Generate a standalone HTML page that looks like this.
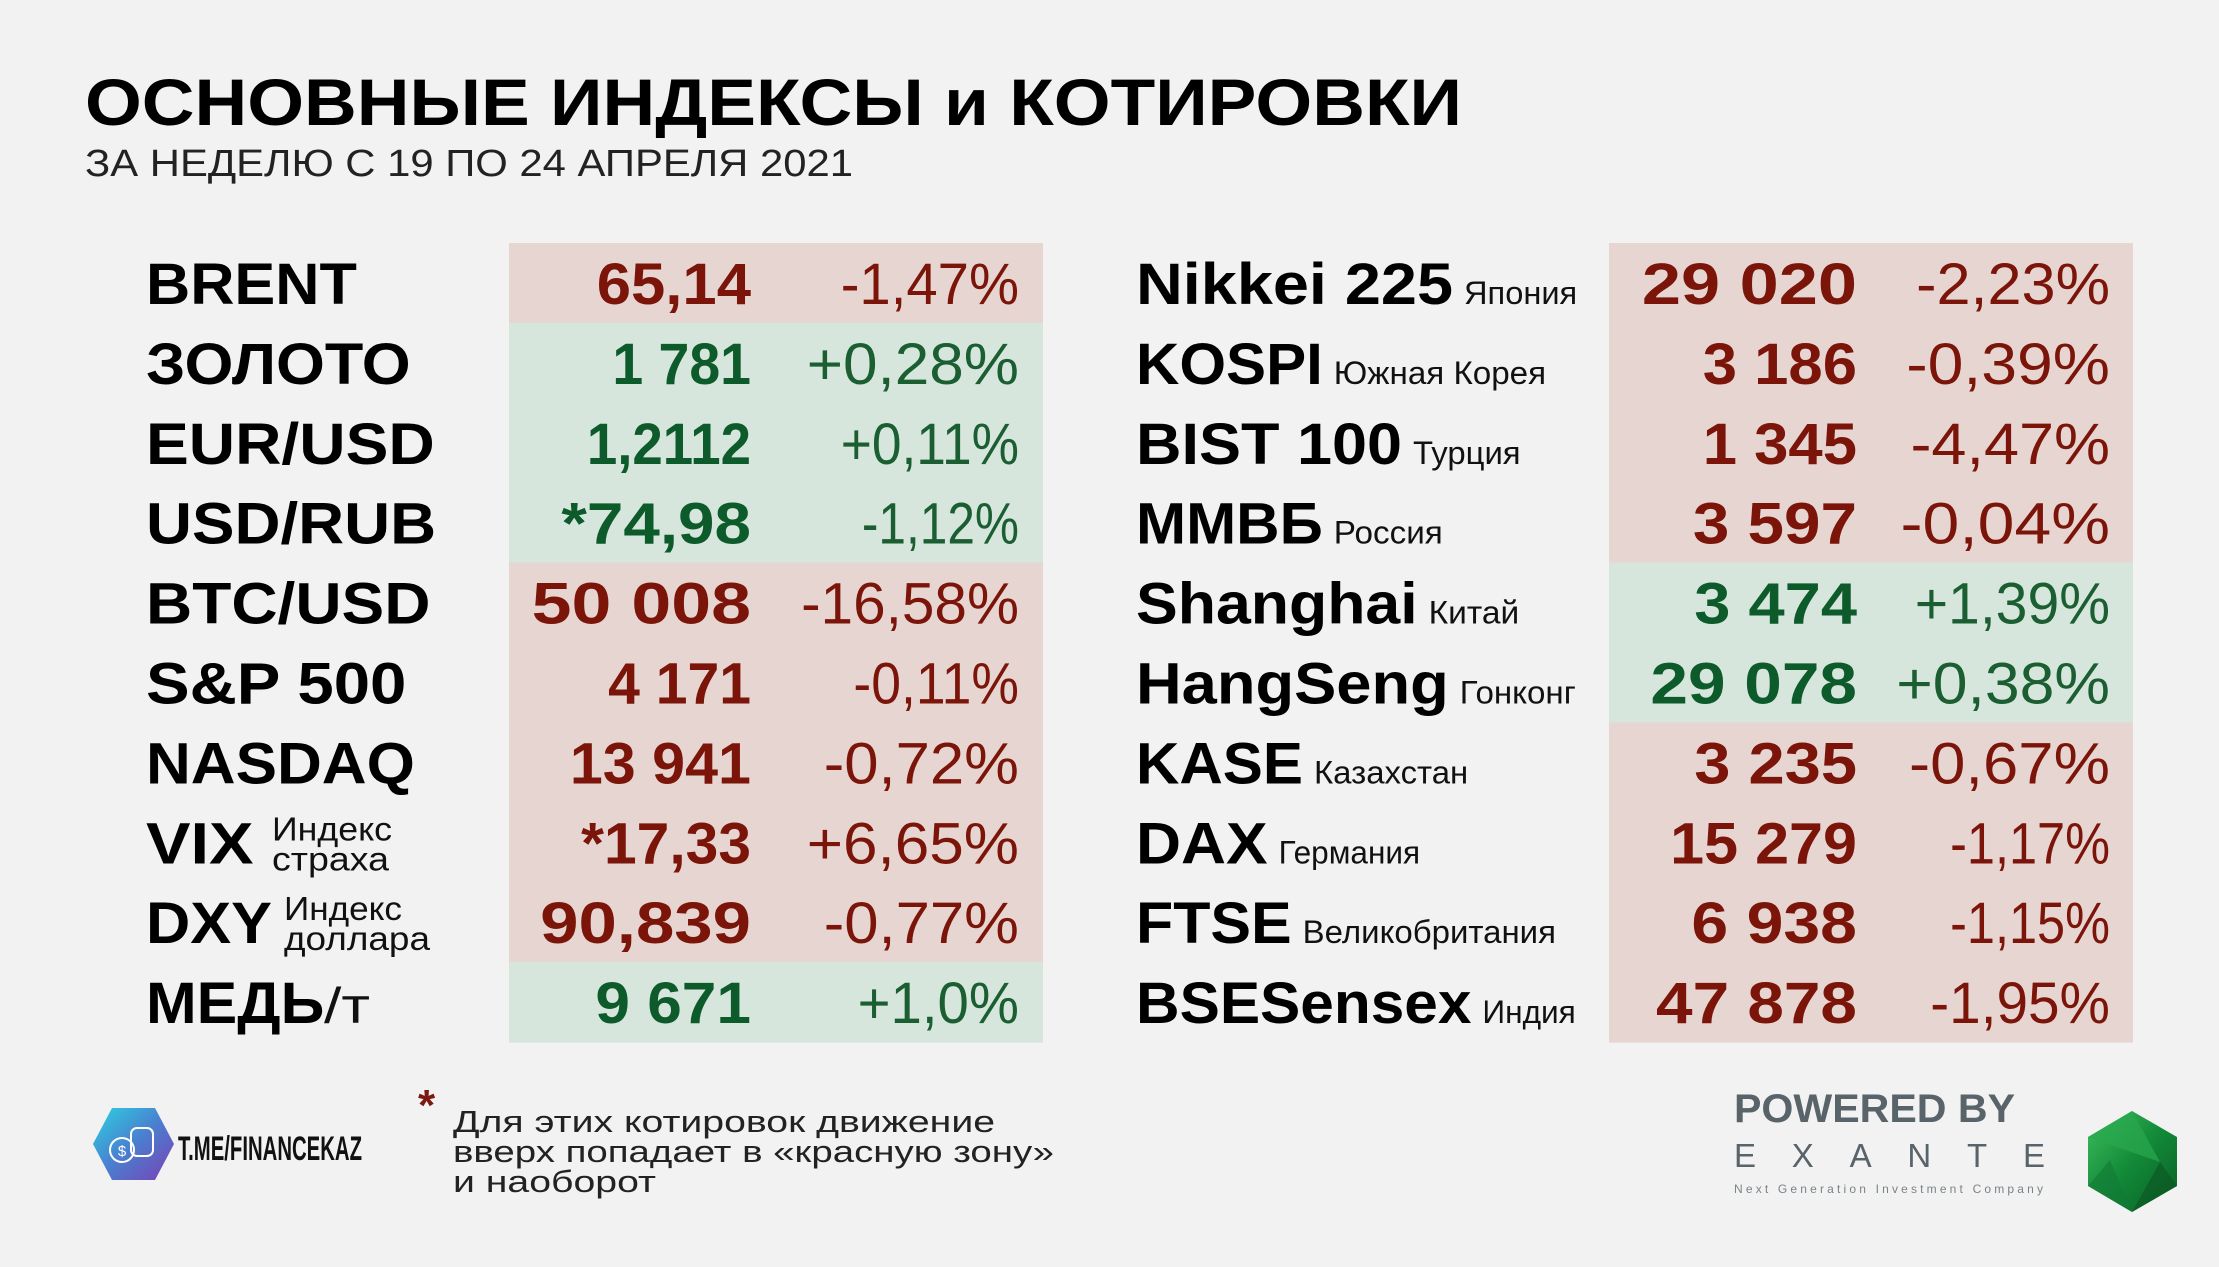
<!DOCTYPE html>
<html><head><meta charset="utf-8">
<style>
html,body{margin:0;padding:0;background:#f2f2f2;}
svg{display:block;}
text{font-family:"Liberation Sans","DejaVu Sans",sans-serif;}
</style></head>
<body>
<svg id="s" width="2219" height="1267" viewBox="0 0 2219 1267" xmlns="http://www.w3.org/2000/svg">
<defs>
<linearGradient id="hexg" x1="0" y1="0" x2="1" y2="1"><stop offset="0" stop-color="#2bd3e0"/><stop offset="0.5" stop-color="#4a7fd0"/><stop offset="1" stop-color="#7a3fb5"/></linearGradient>
<linearGradient id="gemg" x1="0" y1="0" x2="1" y2="1"><stop offset="0" stop-color="#3fbf60"/><stop offset="0.5" stop-color="#128a38"/><stop offset="1" stop-color="#0a5e26"/></linearGradient>
</defs>
<rect x="0" y="0" width="2219" height="1267" fill="#f2f2f2"/>
<text x="85" y="125" font-size="66" font-weight="bold" fill="#000" textLength="1377" lengthAdjust="spacingAndGlyphs">ОСНОВНЫЕ ИНДЕКСЫ и КОТИРОВКИ</text>
<text x="85" y="176" font-size="38" fill="#222" textLength="768" lengthAdjust="spacingAndGlyphs">ЗА НЕДЕЛЮ С 19 ПО 24 АПРЕЛЯ 2021</text>
<g id="rows"></g>
<!-- footer -->
<g>
<polygon points="112,1108 155,1108 174,1144 155,1180 112,1180 93,1144" fill="url(#hexg)"/>
<circle cx="122" cy="1150" r="12" fill="none" stroke="#fff" stroke-width="2"/>
<text x="122" y="1156" font-size="15" fill="#fff" text-anchor="middle">$</text>
<rect x="131" y="1128" width="22" height="28" rx="6" fill="none" stroke="#fff" stroke-width="2"/>
</g>
<text x="178" y="1160" font-size="34" font-weight="bold" fill="#111" textLength="184" lengthAdjust="spacingAndGlyphs">T.ME/FINANCEKAZ</text>
<text x="418" y="1120" font-size="44" font-weight="bold" fill="#7a1a10">*</text>
<text font-size="31" fill="#222">
<tspan x="453" y="1132" textLength="542" lengthAdjust="spacingAndGlyphs">Для этих котировок движение</tspan>
<tspan x="453" y="1162" textLength="601" lengthAdjust="spacingAndGlyphs">вверх попадает в «красную зону»</tspan>
<tspan x="453" y="1192" textLength="203" lengthAdjust="spacingAndGlyphs">и наоборот</tspan>
</text>
<text x="1734" y="1122" font-size="40" font-weight="bold" fill="#58636a" textLength="281" lengthAdjust="spacingAndGlyphs">POWERED BY</text>
<text x="1734" y="1167" font-size="33" fill="#58636a" textLength="311" lengthAdjust="spacing">EXANTE</text>
<text x="1734" y="1193" font-size="12" fill="#7a8388" textLength="309" lengthAdjust="spacing">Next Generation Investment Company</text>
<g>
<polygon points="2132,1111 2177,1137 2177,1186 2132,1212 2088,1186 2088,1137" fill="url(#gemg)"/>
<polygon points="2132,1111 2160,1162 2088,1137" fill="#2aa84e" opacity="0.7"/>
<polygon points="2160,1162 2177,1186 2132,1212" fill="#0b5a24" opacity="0.7"/>
<polygon points="2088,1186 2132,1212 2110,1160" fill="#137a35" opacity="0.6"/>
</g>
</svg>
<script>
const leftNames = ["BRENT","ЗОЛОТО","EUR/USD","USD/RUB","BTC/USD","S&P 500","NASDAQ","VIX","DXY","МЕДЬ"];
const leftSubs = ["","","","","","","",["Индекс","страха"],["Индекс","доллара"],"/т"];
const leftValues = ["65,14","1 781","1,2112","*74,98","50 008","4 171","13 941","*17,33","90,839","9 671"];
const leftPcts = ["-1,47%","+0,28%","+0,11%","-1,12%","-16,58%","-0,11%","-0,72%","+6,65%","-0,77%","+1,0%"];
const leftZones = ["r","g","g","g","r","r","r","r","r","g"];
const rightNames = ["Nikkei 225","KOSPI","BIST 100","ММВБ","Shanghai","HangSeng","KASE","DAX","FTSE","BSESensex"];
const rightSubs = ["Япония","Южная Корея","Турция","Россия","Китай","Гонконг","Казахстан","Германия","Великобритания","Индия"];
const rightValues = ["29 020","3 186","1 345","3 597","3 474","29 078","3 235","15 279","6 938","47 878"];
const rightPcts = ["-2,23%","-0,39%","-4,47%","-0,04%","+1,39%","+0,38%","-0,67%","-1,17%","-1,15%","-1,95%"];
const rightZones = ["r","r","r","r","g","g","r","r","r","r"];

// measured display widths (display px, scale 1.4152)
const S = 2219/1568;
const lNameW=[149,187,204,205,201,184,190,76,89,126];
const lValW=[109,98,116,134,155,101,128,120,149,110];
const lPctW=[126,150,126,111,154,117,138,150,138,114];
const rNameW=[224,132,188,132,199,221,118,93,110,237];
const rSubW=[80,150,76,77,64,82,109,100,179,66];
const rValW=[152,109,109,116,115,146,115,132,117,142];
const rPctW=[137,144,141,148,138,151,142,113,113,127];

const NS="http://www.w3.org/2000/svg";
const g=document.getElementById('rows');
const rowTop=243, rowH=79.9, base0=304;
function t(x,y,str,size,weight,fill,w,anchor){
  const e=document.createElementNS(NS,'text');
  e.setAttribute('x',x);e.setAttribute('y',y);
  e.setAttribute('font-size',size);
  if(weight)e.setAttribute('font-weight',weight);
  e.setAttribute('fill',fill);
  if(anchor)e.setAttribute('text-anchor',anchor);
  if(w){e.setAttribute('textLength',w);e.setAttribute('lengthAdjust','spacingAndGlyphs');}
  e.textContent=str;g.appendChild(e);return e;
}
const RED_BG="#e7d5d2",GRN_BG="#d6e6dc",RED="#7b1409",GRN="#0d5a2b",GRN2="#1a5e31";
function panel(x,w,zones,nm){
  zones.forEach((z,i)=>{
    const r=document.createElementNS(NS,'rect');
    r.setAttribute('x',x);r.setAttribute('y',rowTop+i*rowH);
    r.setAttribute('width',w);r.setAttribute('height',rowH+0.6);
    r.setAttribute('fill',z==='r'?RED_BG:GRN_BG);
    
    
    g.appendChild(r);
  });
}
panel(509,534,leftZones,'left');
panel(1609,524,rightZones,'right');

leftNames.forEach((n,i)=>{
  const y=base0+i*rowH;
  const e=t(146,y,n,58,'bold','#000',lNameW[i]*S);
  
  
  const sub=leftSubs[i];
  if(Array.isArray(sub)){
    const sx=(i===7)?272:284;
    const a=t(sx,y-23,sub[0],33,null,'#111',(i===7?120:118));
    
    
    const b=t(sx,y+7,sub[1],33,null,'#111',(i===7?117:146));
    
    
  } else if(sub){
    const s=t(324,y,sub,50,null,'#111',46);
    
    
  }
  const col=leftZones[i]==='r'?RED:GRN;
  const v=t(751,y,leftValues[i],58,'bold',col,lValW[i]*S,'end');
  
  
  const p=t(1019,y,leftPcts[i],58,null,leftZones[i]==='r'?RED:GRN2,lPctW[i]*S,'end');
  
  
});
rightNames.forEach((n,i)=>{
  const y=base0+i*rowH;
  const w=rNameW[i]*S;
  const e=t(1136,y,n,58,'bold','#000',w);
  
  
  const s=t(1136+w+11,y,rightSubs[i],32,null,'#111',rSubW[i]*S);
  
  
  const col=rightZones[i]==='r'?RED:GRN;
  const v=t(1857,y,rightValues[i],58,'bold',col,rValW[i]*S,'end');
  
  
  const p=t(2110,y,rightPcts[i],58,null,rightZones[i]==='r'?RED:GRN2,rPctW[i]*S,'end');
  
  
});
</script>
</body></html>
